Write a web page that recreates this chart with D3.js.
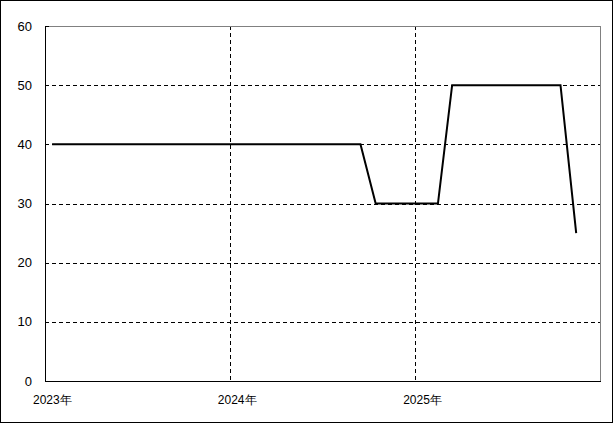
<!DOCTYPE html>
<html><head><meta charset="utf-8">
<script src="https://cdn.jsdelivr.net/npm/d3@7"></script>
<style>html,body{margin:0;padding:0;background:#fff;}svg{display:block;}</style>
</head><body>
<script>
// Data: monthly values (mid-month), Jan 2023 .. Nov 2025
const months = [
 "2023-01","2023-02","2023-03","2023-04","2023-05","2023-06","2023-07","2023-08","2023-09","2023-10","2023-11","2023-12",
 "2024-01","2024-02","2024-03","2024-04","2024-05","2024-06","2024-07","2024-08","2024-09","2024-10","2024-11","2024-12",
 "2025-01","2025-02","2025-03","2025-04","2025-05","2025-06","2025-07","2025-08","2025-09","2025-10","2025-11"
];
const values = [
 40,40,40,40,40,40,40,40,40,40,40,40,
 40,40,40,40,40,40,40,40,40,30,30,30,
 30,30,50,50,50,50,50,50,50,50,25
];
const yTicks = [0,10,20,30,40,50,60];
const xTickYears = [2023,2024,2025];
const xTickLabels = ["2023年","2024年","2025年"];

const W = 615, H = 424;
const m = {left:45, top:26, right:600, bottom:381};
const parse = d3.timeParse("%Y-%m-%d");
const data = months.map((mm,i)=>({date: parse(mm+"-15"), v: values[i]}));

const svg = d3.select("body").append("svg").attr("width",W).attr("height",H);
svg.append("rect").attr("x",0.5).attr("y",0.5).attr("width",612).attr("height",422)
  .attr("fill","#fff").attr("stroke","#000").attr("stroke-width",1);

const x = d3.scaleTime().domain([new Date(2023,0,1), new Date(2026,0,1)]).range([m.left, m.right]);
const y = d3.scaleLinear().domain([0,60]).range([m.bottom, m.top]);

const font = "'Liberation Sans', Arial, sans-serif";

// horizontal grid
svg.append("g").selectAll("line").data(yTicks.filter(t=>t>0 && t<60)).join("line")
  .attr("x1",m.left).attr("x2",m.right)
  .attr("y1",d=>Math.round(y(d))+0.5).attr("y2",d=>Math.round(y(d))+0.5)
  .attr("stroke","#000").attr("stroke-width",1).attr("stroke-dasharray","4,3");
// vertical grid
svg.append("g").selectAll("line").data(xTickYears.slice(1)).join("line")
  .attr("x1",d=>Math.round(x(new Date(d,0,1)))+0.5).attr("x2",d=>Math.round(x(new Date(d,0,1)))+0.5)
  .attr("y1",m.top).attr("y2",m.bottom)
  .attr("stroke","#000").attr("stroke-width",1).attr("stroke-dasharray","4,3");

// frame: top & right grey, left & bottom black
svg.append("line").attr("x1",m.left).attr("x2",m.right+0.5).attr("y1",m.top+0.5).attr("y2",m.top+0.5).attr("stroke","#808080");
svg.append("line").attr("x1",m.right+0.5).attr("x2",m.right+0.5).attr("y1",m.top).attr("y2",m.bottom).attr("stroke","#808080");
svg.append("line").attr("x1",m.left+0.5).attr("x2",m.left+0.5).attr("y1",m.top).attr("y2",m.bottom+1).attr("stroke","#000");
svg.append("line").attr("x1",m.left).attr("x2",m.right+1).attr("y1",m.bottom+0.5).attr("y2",m.bottom+0.5).attr("stroke","#000");
svg.append("line").attr("x1",m.left).attr("x2",m.left+4).attr("y1",m.top+0.5).attr("y2",m.top+0.5).attr("stroke","#000");

// y labels
svg.append("g").selectAll("text").data(yTicks).join("text")
  .attr("x",32).attr("y",d=>y(d)).attr("dy","0.35em").attr("text-anchor","end")
  .attr("font-family",font).attr("font-size",13).attr("fill","#000").text(d=>d);

// x labels
svg.append("g").selectAll("text").data(xTickYears).join("text")
  .attr("x",d=>x(new Date(d,0,1))-12).attr("y",400).attr("dy","0.35em").attr("text-anchor","start")
  .attr("font-family",font).attr("font-size",12).attr("fill","#000").text((d,i)=>xTickLabels[i]);

// line
svg.append("path").datum(data)
  .attr("d", d3.line().x(d=>x(d.date)).y(d=>y(d.v)))
  .attr("fill","none").attr("stroke","#000").attr("stroke-width",2);
</script>
</body></html>
